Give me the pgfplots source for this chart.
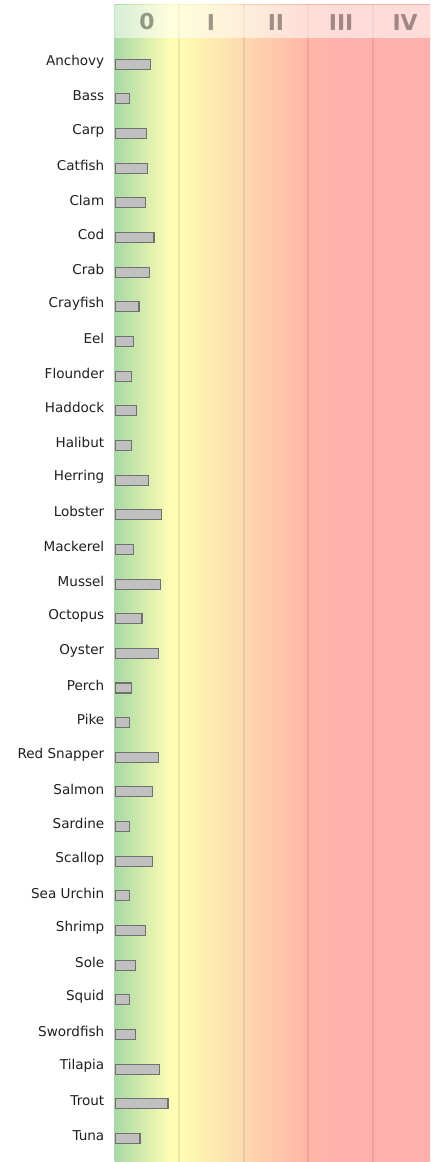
\documentclass[border=0pt]{standalone}
\usepackage{pgfplots}
\pgfplotsset{compat=1.18}
\usepackage{pgfplotstable}
\usepackage{fontspec}
\setmainfont{DejaVu Sans}

\definecolor{bgA}{HTML}{A6D9A4}
\definecolor{bgB}{HTML}{FFFDB4}
\definecolor{bgC}{HTML}{FDDCAE}
\definecolor{bgD}{HTML}{FFB8A8}
\definecolor{bgE}{HTML}{FFB0AC}
\definecolor{barfill}{HTML}{C0C0C0}
\definecolor{barline}{HTML}{707070}

% bar lengths, in columns of the 0..IV scale
\pgfplotstableread{
idx value
0  0.546
1  0.211
2  0.474
3  0.495
4  0.458
5  0.593
6  0.526
7  0.361
8  0.279
9  0.248
10 0.325
11 0.248
12 0.511
13 0.712
14 0.279
15 0.697
16 0.407
17 0.659
18 0.248
19 0.211
20 0.659
21 0.577
22 0.211
23 0.577
24 0.211
25 0.458
26 0.310
27 0.211
28 0.310
29 0.681
30 0.810
31 0.376
}\fishdata

\tikzset{sep/.style={black, opacity=0.08, line width=1.6bp},
  head/.style={font=\bfseries\fontsize{16.5}{16.5}\selectfont, text=black, text opacity=0.38}}

\begin{document}
\begin{tikzpicture}
\begin{axis}[
  name=ax,
  scale only axis,
  width=236.8bp,
  height=867.75bp,
  xmin=-0.022, xmax=4.865,
  ymin=-1.711, ymax=31.68,
  y dir=reverse,
  axis line style={draw=none},
  xtick=\empty,
  ytick={0,...,31},
  yticklabels={Anchovy,Bass,Carp,Catfish,Clam,Cod,Crab,Crayfish,Eel,Flounder,
    Haddock,Halibut,Herring,Lobster,Mackerel,Mussel,Octopus,Oyster,Perch,Pike,
    Red Snapper,Salmon,Sardine,Scallop,Sea Urchin,Shrimp,Sole,Squid,Swordfish,
    Tilapia,Trout,Tuna},
  major tick length=0pt,
  yticklabel style={font=\fontsize{10.2}{11}\selectfont, text=black!88, yshift=2.2bp, xshift=-4bp},
  clip=true,
]
% background gradient
\shade[left color=bgA, right color=bgB, draw=none] (axis cs:-0.03,-1.8) rectangle (axis cs:0.84,31.8);
\fill[bgB] (axis cs:0.83,-1.8) rectangle (axis cs:0.99,31.8);
\shade[left color=bgB, right color=bgC, draw=none] (axis cs:0.98,-1.8) rectangle (axis cs:1.91,31.8);
\shade[left color=bgC, right color=bgD, draw=none] (axis cs:1.9,-1.8) rectangle (axis cs:2.91,31.8);
\shade[left color=bgD, right color=bgE, draw=none] (axis cs:2.9,-1.8) rectangle (axis cs:3.5,31.8);
\fill[bgE] (axis cs:3.49,-1.8) rectangle (axis cs:4.9,31.8);
% column separators
\draw[sep] (axis cs:0.98,-1.8) -- (axis cs:0.98,31.8);
\draw[sep] (axis cs:1.985,-1.8) -- (axis cs:1.985,31.8);
\draw[sep] (axis cs:2.975,-1.8) -- (axis cs:2.975,31.8);
\draw[sep] (axis cs:3.98,-1.8) -- (axis cs:3.98,31.8);
% header band
\fill[white, opacity=0.55] (axis cs:-0.03,-1.711) rectangle (axis cs:4.9,-0.759);
\node[head] at (axis cs:0.485,-1.22) {0};
\node[head] at (axis cs:1.475,-1.22) {I};
\node[head] at (axis cs:2.48,-1.22) {II};
\node[head] at (axis cs:3.49,-1.22) {III};
\node[head] at (axis cs:4.48,-1.22) {IV};
\addplot[xbar, bar width=7.5bp, fill=barfill, draw=barline, line width=0.8bp]
  table[x=value, y=idx] {\fishdata};
\end{axis}
\path ([xshift=-85.7bp]ax.south west) rectangle ([yshift=3.75bp]ax.north east);
\end{tikzpicture}
\end{document}
